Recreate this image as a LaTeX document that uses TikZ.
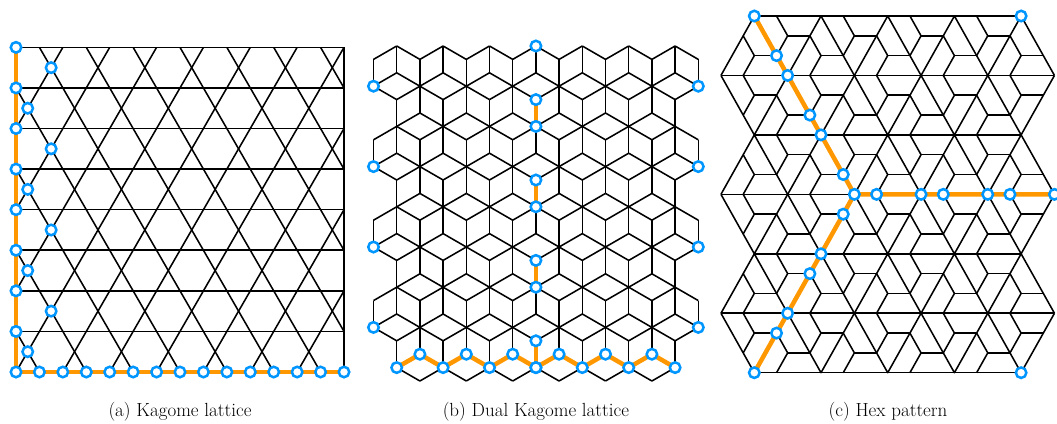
\documentclass[tikz,border=0pt]{standalone}
\usetikzlibrary{calc}
\definecolor{dotblue}{RGB}{0,150,255}
\definecolor{pathorange}{RGB}{255,152,0}
\tikzset{
 latline/.style={line width=1.55pt,draw=black,line join=round},
 orangepath/.style={line width=4.5pt,draw=pathorange,line join=round},
 bdot/.style={circle,draw=dotblue,fill=white,line width=2.5pt,minimum size=10.5pt,inner sep=0pt},
 captxt/.style={font=\fontsize{19}{22}\selectfont,anchor=base,inner sep=0pt},
}
% inclusion test for the dual kagome patch
\newcommand\incB[3]{\pgfmathtruncatemacro#1{((((#2)>=0)&&((#2)<=12))&&(((#3)>=mod(#2+2,2))&&((#3)<=24+mod(#2+2,2))))||((((#2)==-1)||((#2)==13))&&(((mod(#3,6)==1)||(mod(#3,6)==3))&&(((#3)>=1)&&((#3)<=21))))}}
\begin{document}
\begin{tikzpicture}[x=1pt,y=-1pt]
\useasboundingbox (0,0) rectangle (1057,423);

%% ---------------- (a) Kagome lattice ----------------
\begin{scope}
 \clip (16,47.364) rectangle (344,372);
 \foreach \m in {-4,...,7} \draw[latline] ({16+2*\m*23.4286},372) -- ++(187.4286,-324.636);
 \foreach \n in {0,...,10} \draw[latline] ({16+(2*\n+1)*23.4286},372) -- ++(-187.4286,-324.636);
\end{scope}
\foreach \k in {0,...,8} \draw[latline] (16,{372-\k*40.5795}) -- (344,{372-\k*40.5795});
\draw[latline] (16,47.364) -- (16,372);
\draw[latline] (344,47.364) -- (344,372);
\foreach \k in {0,...,8} \coordinate (al\k) at (16,{372-\k*40.5795});
\foreach \k in {0,...,7} \coordinate (am\k) at ({16+23.4286*(0.5+mod(\k,2))},{372-(\k+0.5)*40.5795});
\foreach \i in {0,...,14} \coordinate (ab\i) at ({16+\i*23.4286},372);
\draw[orangepath] (al8) -- (al0) -- (ab14);
\foreach \k in {0,...,8} \node[bdot] (al\k d) at (al\k) {};
\foreach \k in {0,...,7} \node[bdot] (am\k d) at (am\k) {};
\foreach \i in {1,...,14} \node[bdot] (ab\i d) at (ab\i) {};

%% ---------------- (b) Dual Kagome lattice ----------------
\foreach \i in {-1,...,13}{
 \foreach \j in {0,...,25}{
  \pgfmathtruncatemacro\pp{mod(\i+\j+2,2)}
  \ifnum\pp=0
   \incB\ia{\i}{\j}
   \ifnum\ia=1
    \pgfmathtruncatemacro\tb{mod((\j+3*\i+6)/2,3)}
    \pgfmathtruncatemacro\jd{\j+2}
    \pgfmathtruncatemacro\jh{\j+1}
    \pgfmathtruncatemacro\iR{\i+1}
    \pgfmathtruncatemacro\iL{\i-1}
    \ifnum\tb=1\else
     \incB\ib{\i}{\jd}
     \ifnum\ib=1 \draw[latline] ({396.7+23.2*\i},{46+13.4*\j}) -- ({396.7+23.2*\i},{46+13.4*\jd});\fi
    \fi
    \ifnum\tb=2\else
     \incB\ib{\iR}{\jh}
     \ifnum\ib=1 \draw[latline] ({396.7+23.2*\i},{46+13.4*\j}) -- ({396.7+23.2*\iR},{46+13.4*\jh});\fi
     \incB\ib{\iL}{\jh}
     \ifnum\ib=1 \draw[latline] ({396.7+23.2*\i},{46+13.4*\j}) -- ({396.7+23.2*\iL},{46+13.4*\jh});\fi
    \fi
   \fi
  \fi
 }
}
\foreach \i in {0,...,12} \coordinate (bz\i) at ({396.7+23.2*\i},{46+13.4*(24-mod(\i,2))});
\foreach \k in {0,...,3}{
 \coordinate (bmt\k) at ({396.7+23.2*6},{46+13.4*(4+6*\k)});
 \coordinate (bmb\k) at ({396.7+23.2*6},{46+13.4*(6+6*\k)});
 \coordinate (bl\k) at ({396.7-23.2},{46+13.4*(3+6*\k)});
 \coordinate (br\k) at ({396.7+23.2*13},{46+13.4*(3+6*\k)});
}
\coordinate (btop) at ({396.7+23.2*6},46);
\draw[orangepath] (bz0) \foreach \i in {1,...,12}{ -- (bz\i)};
\foreach \k in {0,...,3} \draw[orangepath] (bmt\k) -- (bmb\k);
\foreach \i in {0,...,12} \node[bdot] (bz\i d) at (bz\i) {};
\foreach \k in {0,...,3}{
 \node[bdot] (bmt\k d) at (bmt\k) {};
 \node[bdot] (bmb\k d) at (bmb\k) {};
 \node[bdot] (bl\k d) at (bl\k) {};
 \node[bdot] (br\k d) at (br\k) {};
}
\node[bdot] (btopd) at (btop) {};

%% ---------------- (c) Hex pattern ----------------
% big triangular lattice
\foreach \r in {0,2,4,6} \draw[latline] (754.3,{16+59.45*\r}) -- (1021.1,{16+59.45*\r});
\foreach \r in {1,3,5} \draw[latline] (720.95,{16+59.45*\r}) -- (1054.45,{16+59.45*\r});
\foreach \r in {0,2,4}{
 \foreach \c in {0,2,...,8}
  \draw[latline] ({754.3+33.35*(\c-1)},{16+59.45*(\r+1)}) -- ({754.3+33.35*\c},{16+59.45*\r}) -- ({754.3+33.35*(\c+1)},{16+59.45*(\r+1)});
}
\foreach \r in {1,3,5}{
 \foreach \c in {0,2,...,8}
  \draw[latline] ({754.3+33.35*(\c-1)},{16+59.45*\r}) -- ({754.3+33.35*\c},{16+59.45*(\r+1)}) -- ({754.3+33.35*(\c+1)},{16+59.45*\r});
}
% three-armed pieces inside each big triangle
\foreach \r in {0,...,5}{
 \foreach \c in {0,...,8}{
  \pgfmathsetmacro\X{754.3+33.35*\c}
  \pgfmathsetmacro\Y{16+59.45*\r}
  \pgfmathtruncatemacro\pq{mod(\r+\c,2)}
  \ifnum\pq=0
   \draw[latline] ({\X-11.117},{\Y+19.817}) -- (\X,{\Y+39.633}) -- ({\X-11.117},{\Y+59.45});
   \draw[latline] (\X,{\Y+39.633}) -- ({\X+22.233},{\Y+39.633});
  \else
   \draw[latline] ({\X-11.117},\Y) -- (\X,{\Y+19.817}) -- ({\X-11.117},{\Y+39.633});
   \draw[latline] (\X,{\Y+19.817}) -- ({\X+22.233},{\Y+19.817});
  \fi
 }
}
% path vertices
\foreach \k in {0,...,3} \coordinate (cu\k) at ({754.3+33.35*\k},{16+59.45*\k});
\foreach \k in {0,...,2} \coordinate (cua\k) at ({776.533+33.35*\k},{55.633+59.45*\k});
\foreach \k in {1,...,3} \coordinate (cd\k) at ({854.35-33.35*\k},{194.35+59.45*\k});
\foreach \k in {0,...,2} \coordinate (cda\k) at ({843.233-33.35*\k},{214.167+59.45*\k});
\foreach \k in {1,...,3} \coordinate (ch\k) at ({854.35+66.7*\k},194.35);
\foreach \k in {0,...,2} \coordinate (cha\k) at ({876.583+66.7*\k},194.35);
\coordinate (ctr) at (1021.1,16);
\coordinate (cbr) at (1021.1,372.7);
\draw[orangepath] (cu0) -- (cu3) -- (cd3);
\draw[orangepath] (cu3) -- (ch3);
\foreach \k in {0,...,3} \node[bdot] (cu\k d) at (cu\k) {};
\foreach \k in {0,...,2}{
 \node[bdot] (cua\k d) at (cua\k) {};
 \node[bdot] (cda\k d) at (cda\k) {};
 \node[bdot] (cha\k d) at (cha\k) {};
}
\foreach \k in {1,...,3}{
 \node[bdot] (cd\k d) at (cd\k) {};
 \node[bdot] (ch\k d) at (ch\k) {};
}
\node[bdot] (ctrd) at (ctr) {};
\node[bdot] (cbrd) at (cbr) {};

%% ---------------- captions ----------------
\node[captxt] (capa) at (180,416) {(a) Kagome lattice};
\node[captxt] (capb) at (535.9,416) {(b) Dual Kagome lattice};
\node[captxt] (capc) at (888,416) {(c) Hex pattern};
\end{tikzpicture}
\end{document}
